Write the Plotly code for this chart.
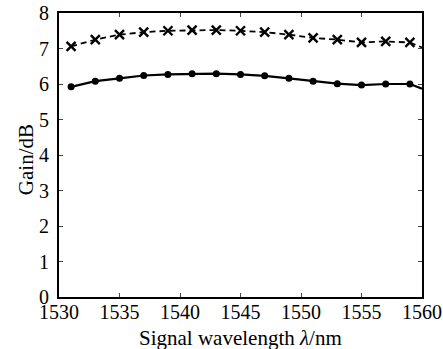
import plotly.graph_objects as go

wavelength = [1531, 1533, 1535, 1537, 1539, 1541, 1543, 1545, 1547, 1549, 1551, 1553, 1555, 1557, 1559]
gain_upper = [7.06, 7.25, 7.39, 7.46, 7.50, 7.52, 7.52, 7.50, 7.46, 7.39, 7.30, 7.25, 7.17, 7.20, 7.17]
gain_lower = [5.92, 6.08, 6.16, 6.24, 6.27, 6.29, 6.29, 6.27, 6.23, 6.16, 6.08, 6.01, 5.97, 6.00, 6.00]
edge_x = [1559, 1560]
edge_upper = [7.17, 7.03]
edge_lower = [6.00, 5.87]

xticks = [1530, 1535, 1540, 1545, 1550, 1555, 1560]
yticks = [0, 1, 2, 3, 4, 5, 6, 7, 8]

fig = go.Figure()
fig.add_trace(go.Scatter(x=wavelength, y=gain_upper, mode="lines+markers",
                         line=dict(color="black", width=1.8, dash="6px,4px"),
                         marker=dict(symbol="x-thin", size=9, line=dict(color="black", width=2.4)),
                         showlegend=False))
fig.add_trace(go.Scatter(x=edge_x, y=edge_upper, mode="lines",
                         line=dict(color="black", width=1.8, dash="6px,4px"), showlegend=False))
fig.add_trace(go.Scatter(x=wavelength, y=gain_lower, mode="lines+markers",
                         line=dict(color="black", width=2.2),
                         marker=dict(symbol="circle", size=7, color="black"),
                         showlegend=False))
fig.add_trace(go.Scatter(x=edge_x, y=edge_lower, mode="lines",
                         line=dict(color="black", width=2.2), showlegend=False))

serif = "Liberation Serif, Times New Roman, serif"
fig.update_layout(
    width=443, height=349,
    margin=dict(l=59, r=21, t=13, b=52),
    paper_bgcolor="white", plot_bgcolor="white",
    font=dict(family=serif, size=20, color="black"),
    xaxis=dict(range=[1530, 1560], tickvals=xticks, ticks="inside", ticklen=4,
               showline=True, linecolor="black", linewidth=1.8, mirror="ticks",
               showgrid=False, zeroline=False, ticklabelstandoff=-4, automargin=False),
    yaxis=dict(range=[0, 8], tickvals=yticks, ticks="inside", ticklen=4,
               showline=True, linecolor="black", linewidth=1.8, mirror="ticks",
               showgrid=False, zeroline=False, ticklabelstandoff=4, automargin=False),
    annotations=[
        dict(text="Signal wavelength <i>λ</i>/nm", xref="paper", yref="paper",
             x=0.5, y=-0.144, xanchor="center", yanchor="middle", showarrow=False,
             font=dict(family=serif, size=21)),
        dict(text="Gain/dB", xref="paper", yref="paper", textangle=-90,
             x=-0.0907, y=0.482, xanchor="center", yanchor="middle", showarrow=False,
             font=dict(family=serif, size=21)),
    ],
)
fig.write_html("out.html")
